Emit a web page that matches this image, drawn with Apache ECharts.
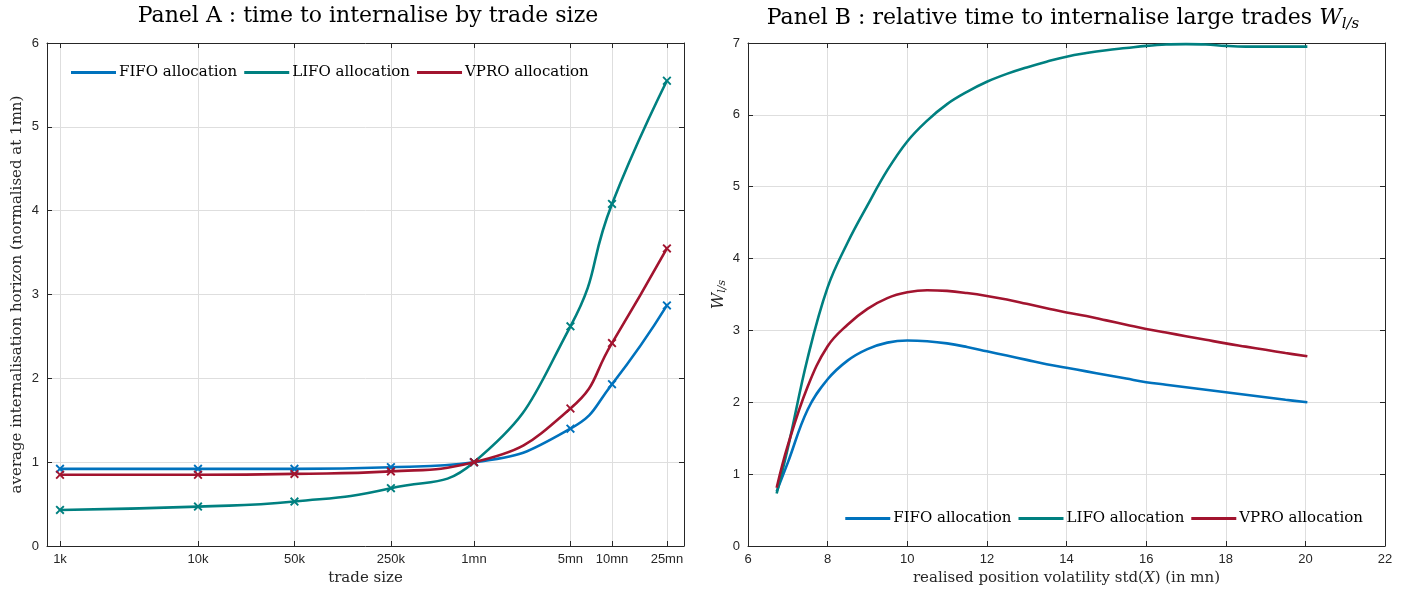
<!DOCTYPE html>
<html>
<head>
<meta charset="utf-8">
<script src="https://cdn.jsdelivr.net/npm/echarts@6/dist/echarts.min.js"></script>
<style>
  html, body { margin: 0; padding: 0; background: #fff; }
  #main { width: 1414px; height: 593px; }
</style>
</head>
<body>
<div id="main"></div>
<script>
  // Panel A : trade sizes (log axis) and normalised horizons
  var tradeSizes = [1e3, 1e4, 5e4, 2.5e5, 1e6, 5e6, 1e7, 2.5e7];
  var tradeLabels = ['1k', '10k', '50k', '250k', '1mn', '5mn', '10mn', '25mn'];
  var fifoA = [0.92, 0.92, 0.92, 0.94, 1.0, 1.40, 1.93, 2.87];
  var lifoA = [0.43, 0.47, 0.53, 0.69, 1.0, 2.62, 4.08, 5.55];
  var vproA = [0.85, 0.85, 0.86, 0.89, 1.0, 1.64, 2.42, 3.55];

  // Panel B : realised position volatility vs W_{l/s}
  var volB = [6.72, 7, 7.5, 8, 8.5, 9, 9.5, 10, 10.5, 11, 11.5, 12, 12.5, 13, 13.5, 14, 14.5,
              15, 15.5, 16, 16.5, 17, 17.5, 18, 18.5, 19, 19.5, 20.05];
  var fifoB = [0.76, 1.16, 1.9, 2.32, 2.58, 2.74, 2.83, 2.86, 2.85, 2.82, 2.77, 2.71, 2.65, 2.59, 2.53, 2.48, 2.43,
               2.38, 2.33, 2.28, 2.245, 2.21, 2.175, 2.14, 2.105, 2.07, 2.035, 2.0];
  var lifoB = [0.73, 1.36, 2.62, 3.6, 4.22, 4.74, 5.23, 5.63, 5.92, 6.15, 6.32, 6.46, 6.57, 6.66, 6.74, 6.81, 6.86,
               6.9, 6.93, 6.96, 6.98, 6.985, 6.98, 6.96, 6.95, 6.95, 6.95, 6.95];
  var vproB = [0.81, 1.4, 2.22, 2.78, 3.08, 3.3, 3.45, 3.53, 3.56, 3.55, 3.52, 3.48, 3.43, 3.37, 3.31, 3.25, 3.2,
               3.14, 3.08, 3.02, 2.97, 2.92, 2.87, 2.82, 2.775, 2.73, 2.685, 2.64];

  var names = ['FIFO allocation', 'LIFO allocation', 'VPRO allocation'];
  var colors = ['#0072bd', '#008080', '#a2142f'];

  var serif = 'DejaVu Serif';
  var sans = 'Liberation Sans';
  var axisColor = '#262626';
  var gridColor = '#dedede';

  var logTicks = tradeSizes.map(function (s) { return Math.log10(s); });
  var xMark = 'path://M0,1.5L1.5,0L5,3.5L8.5,0L10,1.5L6.5,5L10,8.5L8.5,10L5,6.5L1.5,10L0,8.5L3.5,5Z';

  function sizeLabel(v) {
    var best = 0;
    for (var i = 1; i < logTicks.length; i++) {
      if (Math.abs(logTicks[i] - v) < Math.abs(logTicks[best] - v)) best = i;
    }
    return tradeLabels[best];
  }

  function pairs(xs, ys, fx) {
    return xs.map(function (x, i) { return [fx ? fx(x) : x, ys[i]]; });
  }

  // 坐标轴（带内刻度的外框）
  function baseAxis(extra) {
    var a = {
      axisLine: { show: true, onZero: false, lineStyle: { color: axisColor, width: 1 } },
      axisTick: { show: true, inside: true, length: 5, lineStyle: { color: axisColor } },
      axisLabel: { color: axisColor, fontFamily: sans, fontSize: 13 },
      splitLine: { show: false }
    };
    for (var k in extra) a[k] = extra[k];
    return a;
  }

  var chart = echarts.init(document.getElementById('main'));

  var option = {
    backgroundColor: '#fff',
    animation: false,
    title: [
      {
        text: 'Panel A : time to internalise by trade size',
        left: 363, top: 0, textAlign: 'center',
        textStyle: { fontFamily: serif, fontSize: 22, fontWeight: 'normal', color: '#000' }
      },
      {
        text: '{t|Panel B : relative time to internalise large trades }{w|W}{s|l/s}',
        left: 1058, top: 0, textAlign: 'center',
        textStyle: {
          fontFamily: serif, fontSize: 22, fontWeight: 'normal', color: '#000',
          rich: {
            t: { fontFamily: serif, fontSize: 22, color: '#000' },
            w: { fontFamily: serif, fontSize: 22, fontStyle: 'italic', color: '#000' },
            s: { fontFamily: serif, fontSize: 15, fontStyle: 'italic', color: '#000', padding: [12, 0, 0, 0] }
          }
        }
      }
    ],
    legend: [
      {
        data: names,
        left: 66, top: 60,
        icon: 'rect', itemWidth: 45, itemHeight: 3, itemGap: 7,
        textStyle: { fontFamily: serif, fontSize: 15, color: '#000', padding: [0, 0, 0, -2] }
      },
      {
        data: names,
        right: 46, top: 506,
        icon: 'rect', itemWidth: 45, itemHeight: 3, itemGap: 7,
        textStyle: { fontFamily: serif, fontSize: 15, color: '#000', padding: [0, 0, 0, -2] }
      }
    ],
    grid: [
      { left: 47, right: 730, top: 43, bottom: 47 },
      { left: 748, right: 29, top: 43, bottom: 47 }
    ],
    xAxis: [
      baseAxis({
        type: 'value', gridIndex: 0, position: 'bottom',
        min: 3 - 13 / 138, max: 3 + 624 / 138,
        axisTick: { show: true, inside: true, length: 5, lineStyle: { color: axisColor }, customValues: logTicks },
        axisLabel: { color: axisColor, fontFamily: sans, fontSize: 13, customValues: logTicks, formatter: sizeLabel, margin: 7 },
        splitLine: { show: true, lineStyle: { color: gridColor } },
        name: 'trade size', nameLocation: 'middle', nameGap: 23,
        nameTextStyle: { fontFamily: serif, fontSize: 15, color: axisColor }
      }),
      baseAxis({
        type: 'value', gridIndex: 0, position: 'top',
        min: 3 - 13 / 138, max: 3 + 624 / 138,
        axisTick: { show: true, inside: true, length: 5, lineStyle: { color: axisColor }, customValues: logTicks },
        axisLabel: { show: false, customValues: logTicks }
      }),
      baseAxis({
        type: 'value', gridIndex: 1, position: 'bottom',
        min: 6, max: 22, interval: 2,
        splitLine: { show: true, lineStyle: { color: gridColor } },
        axisLabel: { color: axisColor, fontFamily: sans, fontSize: 13, margin: 7 },
        name: '{a|realised position volatility std(}{i|X}{a|) (in mn)}',
        nameLocation: 'middle', nameGap: 23,
        nameTextStyle: {
          fontFamily: serif, fontSize: 15, color: axisColor,
          rich: {
            a: { fontFamily: serif, fontSize: 15, color: axisColor },
            i: { fontFamily: serif, fontSize: 15, fontStyle: 'italic', color: axisColor }
          }
        }
      }),
      baseAxis({
        type: 'value', gridIndex: 1, position: 'top',
        min: 6, max: 22, interval: 2,
        axisLabel: { show: false }
      })
    ],
    yAxis: [
      baseAxis({
        type: 'value', gridIndex: 0, position: 'left',
        min: 0, max: 6, interval: 1,
        splitLine: { show: true, lineStyle: { color: gridColor } },
        axisLabel: { color: axisColor, fontFamily: sans, fontSize: 13, margin: 8 },
        name: 'average internalisation horizon (normalised at 1mn)',
        nameLocation: 'middle', nameGap: 22,
        nameTextStyle: { fontFamily: serif, fontSize: 15, color: axisColor }
      }),
      baseAxis({
        type: 'value', gridIndex: 0, position: 'right',
        min: 0, max: 6, interval: 1,
        axisLabel: { show: false }
      }),
      baseAxis({
        type: 'value', gridIndex: 1, position: 'left',
        min: 0, max: 7, interval: 1,
        splitLine: { show: true, lineStyle: { color: gridColor } },
        axisLabel: { color: axisColor, fontFamily: sans, fontSize: 13, margin: 8 },
        name: '{w|W}{s|l/s}',
        nameLocation: 'middle', nameGap: 20,
        nameTextStyle: {
          color: axisColor,
          rich: {
            w: { fontFamily: serif, fontSize: 16, fontStyle: 'italic', color: axisColor },
            s: { fontFamily: serif, fontSize: 11, fontStyle: 'italic', color: axisColor, padding: [8, 0, 0, 0] }
          }
        }
      }),
      baseAxis({
        type: 'value', gridIndex: 1, position: 'right',
        min: 0, max: 7, interval: 1,
        axisLabel: { show: false }
      })
    ],
    series: []
  };

  var dataA = [fifoA, lifoA, vproA];
  var dataB = [fifoB, lifoB, vproB];

  dataA.forEach(function (ys, i) {
    option.series.push({
      name: names[i], type: 'line', xAxisIndex: 0, yAxisIndex: 0,
      data: pairs(tradeSizes, ys, Math.log10),
      smooth: 0.5,
      symbol: xMark, symbolSize: 9, showSymbol: true,
      lineStyle: { color: colors[i], width: 2.6 },
      itemStyle: { color: colors[i] },
      z: 3 + i
    });
  });

  dataB.forEach(function (ys, i) {
    option.series.push({
      name: names[i], type: 'line', xAxisIndex: 2, yAxisIndex: 2,
      data: pairs(volB, ys),
      smooth: 0.4,
      symbol: 'none',
      lineStyle: { color: colors[i], width: 2.6 },
      itemStyle: { color: colors[i] },
      z: 3 + i
    });
  });

  chart.setOption(option);
  window.addEventListener('resize', function () { chart.resize(); });
</script>
</body>
</html>
